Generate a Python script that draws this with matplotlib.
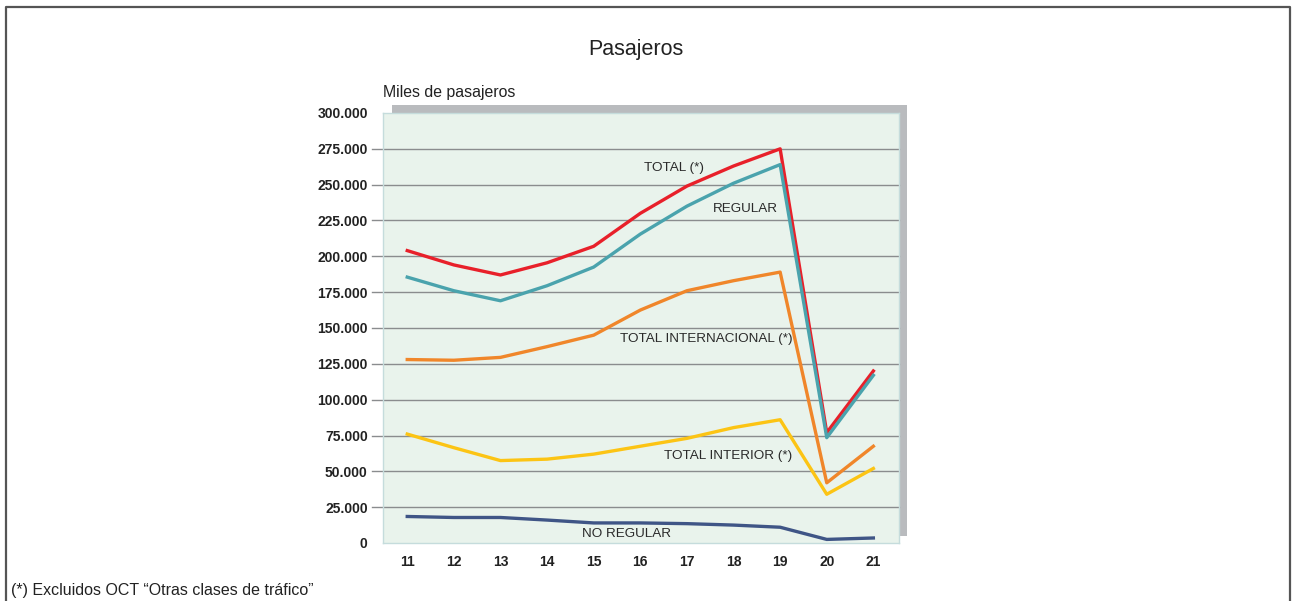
import matplotlib.pyplot as plt
from matplotlib.patches import Rectangle
from matplotlib.ticker import FuncFormatter

# datos (miles de pasajeros)
years = [11, 12, 13, 14, 15, 16, 17, 18, 19, 20, 21]
total = [204000, 194000, 187000, 195500, 207000, 230000, 249000, 263000, 275000, 77000, 120000]
regular = [185500, 176000, 169000, 179500, 192500, 215500, 235000, 251000, 264000, 73500, 117000]
internacional = [128000, 127500, 129500, 137000, 145000, 162500, 176000, 183000, 189000, 42000, 67500]
interior = [76000, 66500, 57500, 58500, 62000, 67500, 73000, 80500, 86000, 34000, 52000]
no_regular = [18500, 17800, 17800, 16000, 14000, 14000, 13500, 12500, 11000, 2500, 3500]

W, H = 1292, 601
fig = plt.figure(figsize=(W / 100, H / 100), dpi=100)

# marco exterior
fig.add_artist(plt.Line2D([6 / W, 6 / W, 1290 / W, 1290 / W], [0, 1 - 7 / H, 1 - 7 / H, 0],
                          transform=fig.transFigure, color="#555555", lw=1.6))

# sombra gris detrás del área de trazado
shadow = Rectangle((392 / W, 1 - 536 / H), (907 - 392) / W, (536 - 105) / H,
                   transform=fig.transFigure, facecolor="#b9bbbe", edgecolor="none", zorder=-1)
fig.patches.append(shadow)

x0, x1, ytop, ybot = 383, 899, 113, 543
ax = fig.add_axes([x0 / W, 1 - ybot / H, (x1 - x0) / W, (ybot - ytop) / H])
ax.set_facecolor("#e9f3ec")
for s in ax.spines.values():
    s.set_color("#c5dcdc")
    s.set_linewidth(1)

ax.set_xlim(10.48, 21.55)
ax.set_ylim(0, 300000)

# líneas de rejilla que sobresalen a la izquierda
for v in range(25000, 300000, 25000):
    ax.plot([-0.022, 1], [v, v], transform=ax.get_yaxis_transform(), color="#8a8c8e",
            lw=1, clip_on=False, zorder=1)

ax.plot(years, total, color="#e8202a", lw=2.4, zorder=3)
ax.plot(years, regular, color="#4aa3ad", lw=2.4, zorder=3)
ax.plot(years, internacional, color="#f0862a", lw=2.4, zorder=3)
ax.plot(years, interior, color="#fcc414", lw=2.4, zorder=3)
ax.plot(years, no_regular, color="#3f5586", lw=2.4, zorder=3)

lab = dict(fontsize=9.7, color="#2a2a2a", ha="center", va="center", family="Liberation Sans")
ax.text(16.73, 261500, "TOTAL (*)", **lab)
ax.text(18.25, 233000, "REGULAR", **lab)
ax.text(17.42, 142000, "TOTAL INTERNACIONAL (*)", **lab)
ax.text(17.88, 60500, "TOTAL INTERIOR (*)", **lab)
ax.text(15.7, 6500, "NO REGULAR", **lab)

ax.set_xticks(years)
ax.set_yticks(range(0, 300001, 25000))
ax.yaxis.set_major_formatter(FuncFormatter(lambda v, p: "0" if v == 0 else f"{int(v):,}".replace(",", ".")))
ax.tick_params(length=0, labelsize=10, colors="#222222")
ax.tick_params(axis="y", pad=11)
ax.tick_params(axis="x", pad=9)
for t in ax.get_xticklabels() + ax.get_yticklabels():
    t.set_fontweight("bold")
    t.set_family(["Liberation Sans Narrow", "Liberation Sans"])

fig.text(636 / W, 1 - 50 / H, "Pasajeros", ha="center", va="center", fontsize=15.5,
         color="#222222", family="Liberation Sans")
fig.text(383 / W, 1 - 93 / H, "Miles de pasajeros", ha="left", va="center", fontsize=11.4,
         color="#222222", family="Liberation Sans")
fig.text(11 / W, 1 - 591 / H, "(*) Excluidos OCT “Otras clases de tráfico”", ha="left", va="center",
         fontsize=11.5, color="#222222", family="Liberation Sans")

fig.savefig("out.png", dpi=100)
